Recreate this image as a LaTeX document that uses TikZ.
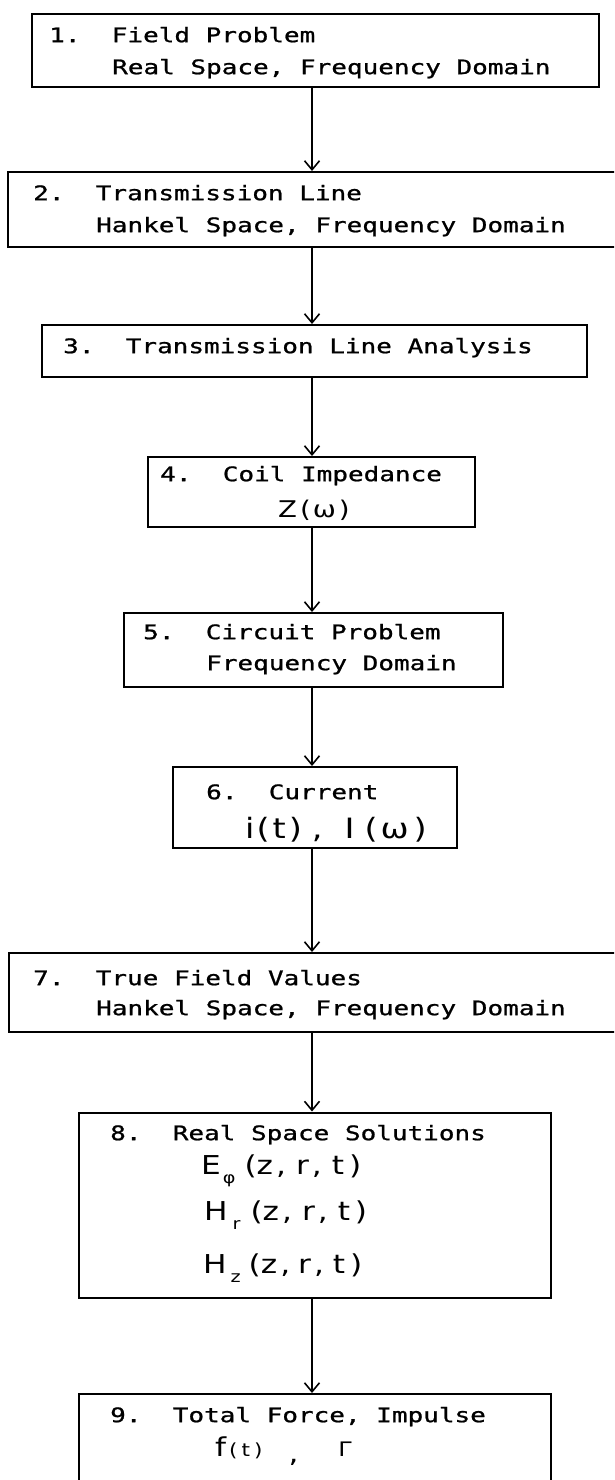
\documentclass[tikz,border=0pt]{standalone}
\usepackage{fontspec}
\newfontfamily\printfont[FakeStretch=1.3, FakeBold=1]{DejaVu Sans Mono}
\newfontfamily\handfont[FakeStretch=1.2]{DejaVu Sans}
\usetikzlibrary{arrows.meta}
\frenchspacing
% lowered index for the field components
\newcommand{\lowidx}[1]{\raisebox{-0.35em}{\fontsize{16}{16}\selectfont #1}}
\tikzset{
  % Box styles
  stepbox/.style={rectangle, draw=black, line width=2pt, inner sep=0pt},
  % Text styles
  txtline/.style={anchor=mid west, inner sep=0pt, font=\printfont\fontsize{20}{32}\selectfont},
  handline/.style={anchor=west, inner sep=0pt, font=\handfont\fontsize{26}{30}\selectfont},
  % Arrow styles
  flow/.style={-{Straight Barb[length=9pt,width=15pt]}, line width=1.6pt}
}

\begin{document}
\begin{tikzpicture}[x=1pt, y=-1pt]
  \clip (0,0) rectangle (614,1480);
  \fill[white] (0,0) rectangle (614,1480);
  \coordinate (spine) at (312,0);

  % Stages of the solution
  \node[stepbox, minimum width=567pt, minimum height=73pt] (b1) at (315.5,50.5) {};
  \node[txtline] (t1a) at (49,40) {1.\ \ Field Problem};
  \node[txtline] (t1b) at (112,72) {Real Space, Frequency Domain};

  \node[stepbox, minimum width=632pt, minimum height=75pt] (b2) at (324,209.5) {};
  \node[txtline] (t2a) at (33,198) {2.\ \ Transmission Line};
  \node[txtline] (t2b) at (96,230) {Hankel Space, Frequency Domain};

  \node[stepbox, minimum width=545pt, minimum height=52pt] (b3) at (314.5,351) {};
  \node[txtline] (t3) at (63,351) {3.\ \ Transmission Line Analysis};

  \node[stepbox, minimum width=327pt, minimum height=70pt] (b4) at (311.5,492) {};
  \node[txtline] (t4) at (160,479) {4.\ \ Coil Impedance};
  \node[handline, font=\handfont\fontsize{23}{26}\selectfont] (m4) at (278,510) {Z\hspace{3pt}(\hspace{2pt}ω\hspace{3pt})};

  \node[stepbox, minimum width=379pt, minimum height=74pt] (b5) at (313.5,650) {};
  \node[txtline] (t5a) at (143,637) {5.\ \ Circuit Problem};
  \node[txtline] (t5b) at (206,668) {Frequency Domain};

  \node[stepbox, minimum width=284pt, minimum height=81pt] (b6) at (315,807.5) {};
  \node[txtline] (t6) at (206,797) {6.\ \ Current};
  \node[handline, font=\handfont\fontsize{28}{32}\selectfont] (m6) at (245,830) {i\hspace{2pt}(\hspace{3pt}t\hspace{3pt})\hspace{10pt},\hspace{22pt}I\hspace{10pt}(\hspace{3pt}ω\hspace{5pt})};

  \node[stepbox, minimum width=631pt, minimum height=79pt] (b7) at (324.5,992.5) {};
  \node[txtline] (t7a) at (33,983) {7.\ \ True Field Values};
  \node[txtline] (t7b) at (96,1013) {Hankel Space, Frequency Domain};

  \node[stepbox, minimum width=472pt, minimum height=185pt] (b8) at (315,1205) {};
  \node[txtline] (t8) at (110,1138) {8.\ \ Real Space Solutions};
  \node[handline] (m8a) at (201,1171) {E\hspace{2pt}\lowidx{φ}\hspace{9pt}(z\hspace{3pt},\hspace{10pt}r\hspace{3pt},\hspace{10pt}t\hspace{5pt})};
  \node[handline] (m8b) at (204,1215) {H\hspace{5pt}\lowidx{r}\hspace{10pt}(z\hspace{3pt},\hspace{10pt}r\hspace{3pt},\hspace{10pt}t\hspace{5pt})};
  \node[handline] (m8c) at (203,1268) {H\hspace{4pt}\lowidx{z}\hspace{8pt}(z\hspace{3pt},\hspace{8pt}r\hspace{3pt},\hspace{9pt}t\hspace{5pt})};

  \node[stepbox, minimum width=472pt, minimum height=96pt] (b9) at (315,1442) {};
  \node[txtline] (t9) at (110,1420) {9.\ \ Total Force, Impulse};
  \node[handline] (m9) at (215,1451) {f\hspace{3pt}{\fontsize{18}{18}\selectfont(\hspace{4pt}t\hspace{4pt})}\hspace{26pt}\raisebox{-0.25em}{,}\hspace{40pt}{\fontsize{20}{20}\selectfont Γ}};

  % Flow between the stages
  \draw[flow] (b1.south -| spine) -- (b2.north -| spine);
  \draw[flow] (b2.south -| spine) -- (b3.north -| spine);
  \draw[flow] (b3.south -| spine) -- (b4.north -| spine);
  \draw[flow] (b4.south -| spine) -- (b5.north -| spine);
  \draw[flow] (b5.south -| spine) -- (b6.north -| spine);
  \draw[flow] (b6.south -| spine) -- (b7.north -| spine);
  \draw[flow] (b7.south -| spine) -- (b8.north -| spine);
  \draw[flow] (b8.south -| spine) -- (b9.north -| spine);
\end{tikzpicture}
\end{document}
